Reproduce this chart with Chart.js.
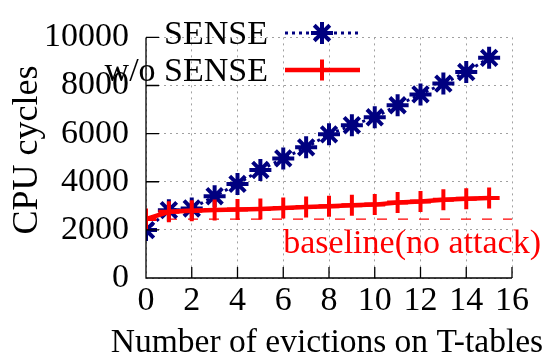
<!DOCTYPE html>
<html>
<head>
<meta charset="utf-8">
<script src="https://cdn.jsdelivr.net/npm/chart.js@4.4.1/dist/chart.umd.min.js"></script>
<style>
html,body{margin:0;padding:0;background:#fff;}
#wrap{width:546px;height:360px;position:relative;}
</style>
</head>
<body>
<div id="wrap"><canvas id="c" width="546" height="360"></canvas></div>
<script>
const evictions = [0,1,2,3,4,5,6,7,8,9,10,11,12,13,14,15];
const senseValues = [1990,2820,2890,3400,3910,4490,4970,5430,5970,6350,6680,7180,7630,8080,8560,9150];
const noSenseValues = [2450,2750,2800,2830,2850,2870,2910,2950,2980,3020,3050,3140,3180,3250,3290,3330];
const baselineValue = 2450;
const baselineRange = [0,16];
const xTicks = [0,2,4,6,8,10,12,14,16];
const yTicks = [0,2000,4000,6000,8000,10000];
const seriesNames = ['SENSE','w/o SENSE'];
const baselineLabel = 'baseline(no attack)';
const xTitle = 'Number of evictions on T-tables';
const yTitle = 'CPU cycles';

const SERIF = '"Liberation Serif", "Times New Roman", serif';
const NAVY = '#000080';
const RED = '#ff0000';

const toPts = (xs, ys) => xs.map((x,i)=>({x:x,y:ys[i]}));

const axesPlugin = {
  id:'axesPlugin',
  afterDatasetsDraw(chart){
    const ctx = chart.ctx, xs = chart.scales.x, ys = chart.scales.y, a = chart.chartArea;
    ctx.save();
    ctx.strokeStyle = '#000';
    ctx.lineWidth = 1.3;
    ctx.setLineDash([]);
    ctx.beginPath();
    ctx.moveTo(a.left, a.top); ctx.lineTo(a.left, a.bottom); ctx.lineTo(a.right, a.bottom);
    xTicks.forEach(v=>{const px = xs.getPixelForValue(v); ctx.moveTo(px, a.bottom); ctx.lineTo(px, a.bottom-11);});
    yTicks.forEach(v=>{const py = ys.getPixelForValue(v); ctx.moveTo(a.left, py); ctx.lineTo(a.left+13, py);});
    ctx.stroke();
    ctx.fillStyle = RED;
    ctx.font = '34px ' + SERIF;
    ctx.textAlign = 'left';
    ctx.textBaseline = 'alphabetic';
    ctx.fillText(baselineLabel, xs.getPixelForValue(6), ys.getPixelForValue(baselineValue) + 34);
    // axis titles
    ctx.fillStyle = '#000';
    ctx.font = '33.5px ' + SERIF;
    ctx.textAlign = 'center';
    ctx.fillText(xTitle, 327, 352);
    ctx.translate(37, 150);
    ctx.rotate(-Math.PI/2);
    ctx.font = '36px ' + SERIF;
    ctx.fillText(yTitle, 0, 0);
    ctx.restore();
  }
};

const legendPlugin = {
  id:'customLegend',
  afterDraw(chart){
    const ctx = chart.ctx;
    const rows = [
      {name: seriesNames[0], ds: chart.data.datasets[0], y: 33},
      {name: seriesNames[1], ds: chart.data.datasets[1], y: 70}
    ];
    ctx.save();
    rows.forEach(r=>{
      ctx.fillStyle = '#000';
      ctx.font = '34px ' + SERIF;
      ctx.textAlign = 'right';
      ctx.textBaseline = 'middle';
      ctx.fillText(r.name, 268, r.y + 2);
      ctx.strokeStyle = r.ds.borderColor;
      ctx.lineWidth = r.ds.borderWidth;
      ctx.setLineDash(r.ds.borderDash || []);
      ctx.beginPath(); ctx.moveTo(285, r.y); ctx.lineTo(360, r.y); ctx.stroke();
      ctx.setLineDash([]);
      ctx.strokeStyle = r.ds.pointBorderColor;
      ctx.fillStyle = r.ds.pointBorderColor;
      ctx.lineWidth = r.ds.pointBorderWidth;
      Chart.helpers.drawPoint(ctx, {
        pointStyle: r.ds.pointStyle, radius: r.ds.pointRadius, rotation: 0,
        borderWidth: r.ds.pointBorderWidth
      }, 322, r.y);
    });
    ctx.restore();
  }
};

new Chart(document.getElementById('c'), {
  type: 'line',
  data: {
    datasets: [
      {
        label: seriesNames[0],
        data: toPts(evictions, senseValues),
        borderColor: NAVY, backgroundColor: NAVY,
        borderWidth: 3, borderDash: [3,4],
        pointStyle: 'star', pointRadius: 11, pointBorderWidth: 4,
        pointBorderColor: NAVY, pointBackgroundColor: NAVY,
        tension: 0, order: 1
      },
      {
        label: seriesNames[1],
        data: toPts(evictions, noSenseValues),
        borderColor: RED, backgroundColor: RED,
        borderWidth: 4.5,
        pointStyle: 'cross', pointRadius: 10.5, pointBorderWidth: 4,
        pointBorderColor: RED, pointBackgroundColor: RED,
        tension: 0, order: 0
      },
      {
        label: 'baseline',
        data: baselineRange.map(x=>({x:x,y:baselineValue})),
        borderColor: RED, borderWidth: 1.2, borderDash: [10,11],
        pointRadius: 0, tension: 0, order: 2
      }
    ]
  },
  options: {
    responsive: false,
    animation: false,
    devicePixelRatio: 1,
    layout: { padding: { top: 18, right: 34, left: 0, bottom: 0 } },
    plugins: { legend: { display: false }, tooltip: { enabled: false } },
    scales: {
      x: {
        type: 'linear', min: 0, max: 16,
        afterFit: s => { s.height = 82; },
        afterBuildTicks: s => { s.ticks = xTicks.map(v=>({value:v})); },
        border: { display: false, dash: [2,4] },
        grid: { color: '#a0a0a0', lineWidth: 1, drawTicks: false },
        ticks: { color: '#000', font: { family: SERIF, size: 34 }, padding: 3, maxRotation: 0, autoSkip: false,
                 callback: v => String(v) },
        title: { display: false }
      },
      y: {
        min: 0, max: 10000,
        afterFit: s => { s.width = 146; },
        afterBuildTicks: s => { s.ticks = yTicks.map(v=>({value:v})); },
        border: { display: false, dash: [2,4] },
        grid: { color: '#a0a0a0', lineWidth: 1, drawTicks: false },
        ticks: { color: '#000', font: { family: SERIF, size: 34 }, padding: 17,
                 callback: v => String(v) },
        title: { display: false }
      }
    }
  },
  plugins: [axesPlugin, legendPlugin]
});
</script>
</body>
</html>
